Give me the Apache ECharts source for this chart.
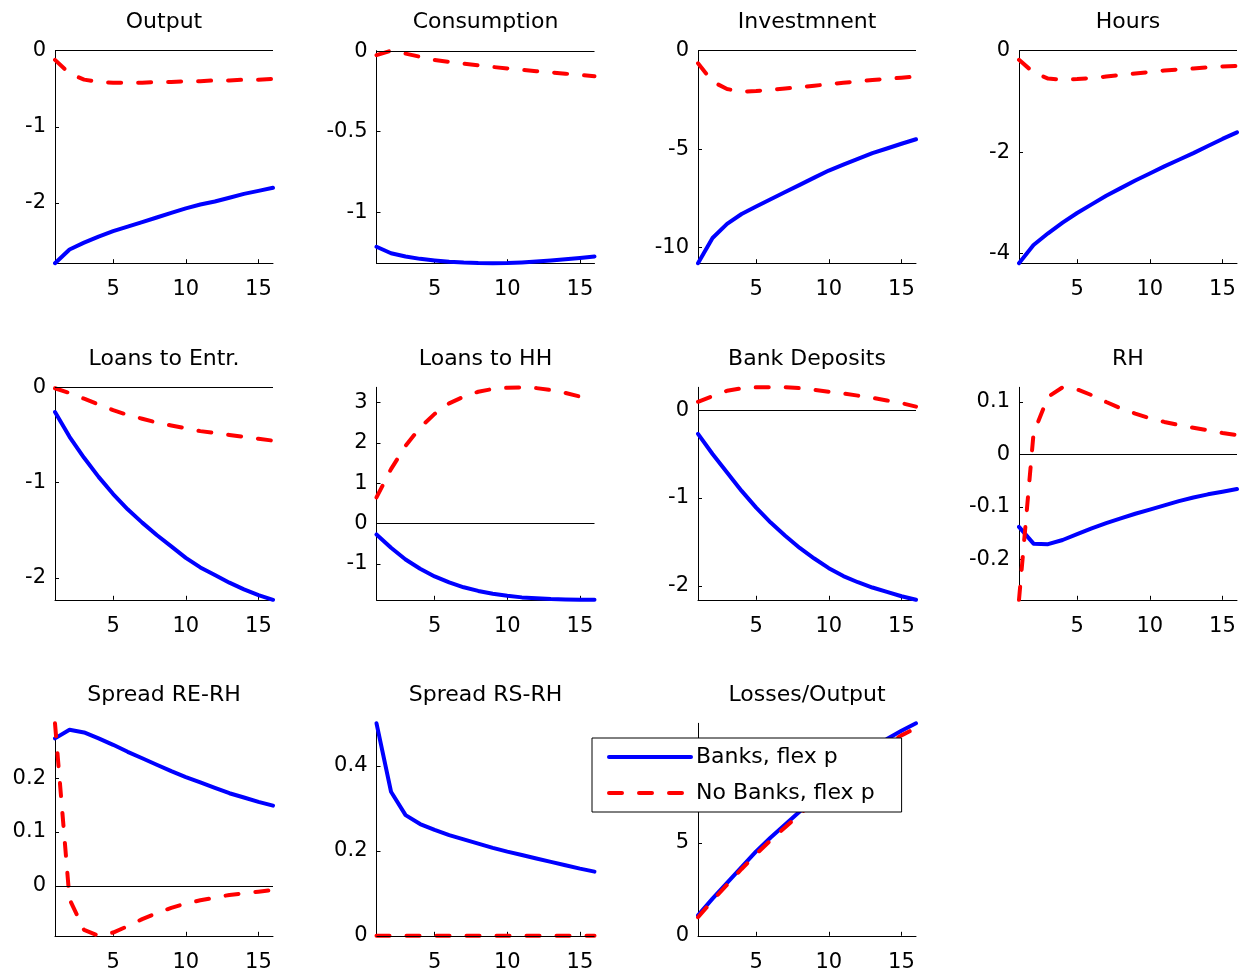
<!DOCTYPE html>
<html><head><meta charset="utf-8">
<script src="https://cdn.jsdelivr.net/npm/echarts@6/dist/echarts.min.js"></script>
<style>html,body{margin:0;padding:0;background:#fff}#c{width:1247px;height:974px}</style>
</head><body><div id="c"></div>
<script>
const periods = [1,2,3,4,5,6,7,8,9,10,11,12,13,14,15,16];
const xTicks = [5,10,15];
const seriesNames = ['Banks, flex p', 'No Banks, flex p'];
const panelTitles = ['Output','Consumption','Investmnent','Hours','Loans to Entr.','Loans to HH','Bank Deposits','RH','Spread RE-RH','Spread RS-RH','Losses/Output'];

const outputBanks = [-2.79,-2.61,-2.52,-2.44,-2.37,-2.31,-2.25,-2.19,-2.13,-2.07,-2.02,-1.98,-1.93,-1.88,-1.84,-1.80];
const outputNoBanks = [-0.12,-0.30,-0.38,-0.41,-0.42,-0.42,-0.42,-0.41,-0.41,-0.40,-0.40,-0.39,-0.39,-0.38,-0.38,-0.37];
const outputTicks = [-2,-1,0];

const consumptionBanks = [-1.215,-1.255,-1.275,-1.29,-1.30,-1.308,-1.313,-1.316,-1.317,-1.316,-1.312,-1.306,-1.300,-1.293,-1.285,-1.275];
const consumptionNoBanks = [-0.025,0.003,-0.015,-0.035,-0.055,-0.067,-0.078,-0.088,-0.098,-0.107,-0.116,-0.124,-0.132,-0.140,-0.148,-0.155];
const consumptionTicks = [-1,-0.5,0];

const investmentBanks = [-10.8,-9.52,-8.8,-8.3,-7.92,-7.55,-7.18,-6.82,-6.45,-6.09,-5.79,-5.5,-5.21,-4.97,-4.73,-4.5];
const investmentNoBanks = [-0.64,-1.57,-1.95,-2.08,-2.05,-1.98,-1.92,-1.86,-1.78,-1.70,-1.63,-1.56,-1.49,-1.43,-1.37,-1.32];
const investmentTicks = [-10,-5,0];

const hoursBanks = [-4.19,-3.83,-3.60,-3.39,-3.20,-3.03,-2.86,-2.71,-2.56,-2.42,-2.28,-2.15,-2.02,-1.88,-1.74,-1.61];
const hoursNoBanks = [-0.18,-0.43,-0.55,-0.57,-0.56,-0.54,-0.51,-0.48,-0.45,-0.42,-0.39,-0.37,-0.35,-0.33,-0.31,-0.30];
const hoursTicks = [-4,-2,0];

const loansEntrBanks = [-0.26,-0.52,-0.74,-0.94,-1.12,-1.28,-1.42,-1.55,-1.67,-1.79,-1.89,-1.97,-2.05,-2.12,-2.18,-2.23];
const loansEntrNoBanks = [-0.01,-0.06,-0.12,-0.18,-0.24,-0.29,-0.33,-0.37,-0.40,-0.43,-0.46,-0.48,-0.50,-0.52,-0.54,-0.56];
const loansEntrTicks = [-2,-1,0];

const loansHHBanks = [-0.27,-0.60,-0.89,-1.12,-1.31,-1.46,-1.58,-1.67,-1.74,-1.79,-1.83,-1.85,-1.87,-1.88,-1.89,-1.89];
const loansHHNoBanks = [0.65,1.35,1.93,2.38,2.72,2.98,3.15,3.27,3.34,3.37,3.38,3.36,3.31,3.24,3.15,3.05];
const loansHHTicks = [-1,0,1,2,3];

const depositsBanks = [-0.27,-0.50,-0.71,-0.92,-1.11,-1.28,-1.43,-1.57,-1.69,-1.80,-1.89,-1.96,-2.02,-2.07,-2.12,-2.16];
const depositsNoBanks = [0.095,0.16,0.22,0.25,0.26,0.26,0.26,0.25,0.23,0.21,0.19,0.165,0.14,0.11,0.08,0.04];
const depositsTicks = [-2,-1,0];

const rhBanks = [-0.138,-0.170,-0.171,-0.163,-0.152,-0.141,-0.131,-0.122,-0.113,-0.105,-0.097,-0.089,-0.082,-0.076,-0.071,-0.066];
const rhNoBanks = [-0.277,0.04,0.11,0.128,0.124,0.113,0.10,0.088,0.078,0.069,0.062,0.056,0.051,0.046,0.041,0.037];
const rhTicks = [-0.2,-0.1,0,0.1];

const spreadREBanks = [0.274,0.29,0.285,0.274,0.262,0.249,0.237,0.225,0.213,0.202,0.192,0.182,0.172,0.164,0.156,0.149];
const spreadRENoBanks = [0.302,-0.025,-0.082,-0.093,-0.087,-0.075,-0.062,-0.051,-0.041,-0.033,-0.027,-0.022,-0.017,-0.014,-0.011,-0.008];
const spreadRETicks = [0,0.1,0.2];

const spreadRSBanks = [0.5,0.339,0.284,0.263,0.249,0.237,0.227,0.217,0.207,0.198,0.19,0.182,0.174,0.166,0.158,0.151];
const spreadRSNoBanks = [0,0,0,0,0,0,0,0,0,0,0,0,0,0,0,0];
const spreadRSTicks = [0,0.2,0.4];

const lossesBanks = [1.1,2.0,2.85,3.7,4.55,5.3,6.0,6.7,7.4,8.05,8.7,9.3,9.95,10.6,11.05,11.45];
const lossesNoBanks = [1.0,1.9,2.75,3.6,4.4,5.15,5.85,6.55,7.25,7.9,8.55,9.15,9.75,10.3,10.8,11.2];
const lossesTicks = [0,5,10];

const panelBanks = [outputBanks,consumptionBanks,investmentBanks,hoursBanks,loansEntrBanks,loansHHBanks,depositsBanks,rhBanks,spreadREBanks,spreadRSBanks,lossesBanks];
const panelNoBanks = [outputNoBanks,consumptionNoBanks,investmentNoBanks,hoursNoBanks,loansEntrNoBanks,loansHHNoBanks,depositsNoBanks,rhNoBanks,spreadRENoBanks,spreadRSNoBanks,lossesNoBanks];
const panelTicks = [outputTicks,consumptionTicks,investmentTicks,hoursTicks,loansEntrTicks,loansHHTicks,depositsTicks,rhTicks,spreadRETicks,spreadRSTicks,lossesTicks];

const FONT = '"DejaVu Sans", Verdana, sans-serif';
const colLeft = [55, 376.5, 698, 1019];
const rowTop = [50.7, 387.3, 723.3];
const gW = 218, gH = 212.5;

const grids = [], xAxes = [], yAxes = [], series = [], titles = [];
panelTitles.forEach((t, i) => {
  const r = Math.floor(i / 4), c = i % 4;
  grids.push({left: colLeft[c], top: rowTop[r], width: gW, height: gH, outerBoundsMode: 'none', containLabel: false});
  titles.push({text: t, left: colLeft[c] + gW / 2, top: rowTop[r] - 39, textAlign: 'center', padding: 0,
    textStyle: {fontFamily: FONT, fontSize: 22, fontWeight: 'normal', color: '#000'}});
  const all = panelBanks[i].concat(panelNoBanks[i], [0]);
  const ymin = Math.min.apply(null, all), ymax = Math.max.apply(null, all);
  xAxes.push({type: 'value', gridIndex: i, min: 1, max: 16,
    axisLine: {show: true, onZero: false, lineStyle: {color: '#000', width: 1}},
    axisTick: {show: true, inside: true, length: 4, customValues: xTicks, lineStyle: {color: '#000'}},
    axisLabel: {show: true, customValues: xTicks, margin: 16, color: '#000', fontFamily: FONT, fontSize: 21},
    splitLine: {show: false}});
  yAxes.push({type: 'value', gridIndex: i, min: ymin, max: ymax,
    axisLine: {show: true, onZero: false, lineStyle: {color: '#000', width: 1}},
    axisTick: {show: true, inside: true, length: 4, customValues: panelTicks[i], lineStyle: {color: '#000'}},
    axisLabel: {show: true, customValues: panelTicks[i], margin: 9, padding: [4, 0, 0, 0], color: '#000', fontFamily: FONT, fontSize: 21},
    splitLine: {show: false}});
  series.push({type: 'line', name: seriesNames[0], xAxisIndex: i, yAxisIndex: i,
    data: periods.map((p, k) => [p, panelBanks[i][k]]),
    symbol: 'none', clip: false, z: 3, animation: false,
    itemStyle: {color: '#0000ff'},
    lineStyle: {color: '#0000ff', width: 4, cap: 'round', join: 'round'},
    markLine: {silent: true, symbol: ['none', 'none'], label: {show: false}, animation: false,
      lineStyle: {color: '#000', width: 1, type: 'solid'}, emphasis: {disabled: true},
      data: [{yAxis: 0}]}});
  series.push({type: 'line', name: seriesNames[1], xAxisIndex: i, yAxisIndex: i,
    data: periods.map((p, k) => [p, panelNoBanks[i][k]]),
    symbol: 'none', clip: false, z: 4, animation: false,
    itemStyle: {color: '#ff0000'},
    lineStyle: {color: '#ff0000', width: 4, type: [13, 17], cap: 'round', join: 'round'}});
});

const chart = echarts.init(document.getElementById('c'), null, {renderer: 'canvas'});
chart.setOption({
  backgroundColor: '#fff',
  animation: false,
  title: titles,
  grid: grids,
  xAxis: xAxes,
  yAxis: yAxes,
  series: series,
  legend: {
    orient: 'vertical', left: 592, top: 738,
    padding: [8, 27, 8, 15], itemWidth: 82, itemHeight: 20, itemGap: 14,
    backgroundColor: '#fff', borderColor: '#000', borderWidth: 1, borderRadius: 0,
    textStyle: {fontFamily: FONT, fontSize: 22, color: '#000'},
    lineStyle: {width: 4},
    itemStyle: {color: 'rgba(0,0,0,0)', borderWidth: 0, opacity: 0},
    data: seriesNames, selectedMode: false, z: 10
  }
});
</script></body></html>
